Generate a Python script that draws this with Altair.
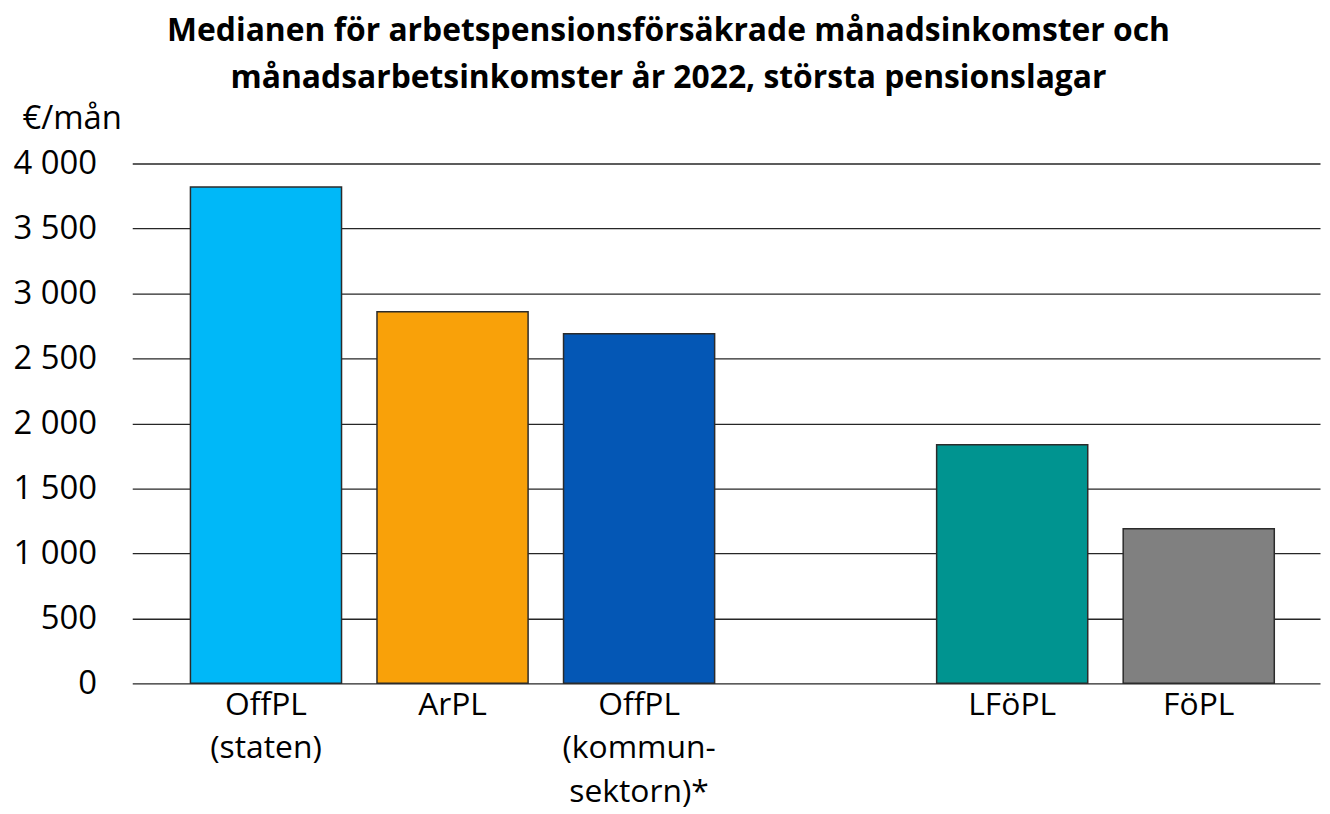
import altair as alt
import pandas as pd

categories = ["OffPL|(staten)", "ArPL", "OffPL|(kommun-|sektorn)*", "LFöPL", "FöPL"]
domain = ["OffPL|(staten)", "ArPL", "OffPL|(kommun-|sektorn)*", "gap", "LFöPL", "FöPL"]
values = [3820, 2860, 2690, 1835, 1190]
colors = ["#00B8F8", "#F9A109", "#0457B5", "#009490", "#808080"]

df = pd.DataFrame({"cat": categories, "val": values, "color": colors})

FONT = "Open Sans"

chart = alt.Chart(df).mark_bar(stroke="#2b2b2b", strokeWidth=1.5).encode(
    x=alt.X("cat:N", scale=alt.Scale(domain=domain, paddingInner=0.19, paddingOuter=0.2785, align=0.56),
            sort=domain,
            axis=alt.Axis(title=None, labelAngle=0, ticks=False, domain=False,
                          labelExpr="datum.value == 'gap' ? '' : split(datum.value, '|')",
                          labelFont=FONT, labelFontSize=32, labelColor="#000000",
                          labelPadding=6, labelLineHeight=44, labelBaseline="top")),
    y=alt.Y("val:Q", scale=alt.Scale(domain=[0, 4000], nice=False),
            axis=alt.Axis(title="€/mån", titleAngle=0, titleAlign="left", titleBaseline="middle",
                          titleX=-111, titleY=-45, titleFont=FONT, titleFontSize=33,
                          titleFontWeight="normal", titleColor="#000000",
                          values=list(range(0, 4001, 500)),
                          labelExpr="replace(format(datum.value, ','), ',', ' ')",
                          labelFont=FONT, labelFontSize=33, labelColor="#000000",
                          labelPadding=36, ticks=False, domain=False,
                          grid=True, gridColor="#262626", gridWidth=1.3)),
    color=alt.Color("color:N", scale=None),
).properties(
    width=1195,
    height=523,
    autosize=alt.AutoSizeParams(type="none"),
    padding={"left": 125, "top": 154, "right": 2, "bottom": 128},
    title=alt.TitleParams(
        text=["Medianen för arbetspensionsförsäkrade månadsinkomster och",
              "månadsarbetsinkomster år 2022, största pensionslagar"],
        font=FONT, fontSize=32, fontWeight="bold", color="#000000",
        anchor="middle", frame="group", dx=-58, offset=8, lineHeight=47,
    ),
).configure_view(stroke=None)

chart.save("out.html", embed_options={"renderer": "svg", "actions": False})
